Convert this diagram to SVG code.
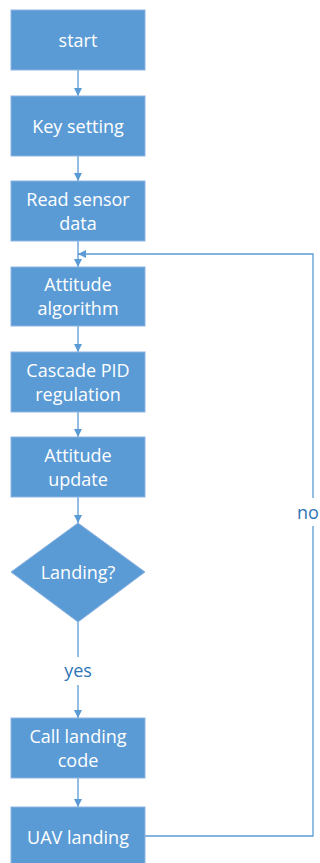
<svg xmlns="http://www.w3.org/2000/svg" width="320" height="863" viewBox="0 0 320 863">
<defs>
<marker id="ah" markerWidth="10" markerHeight="10" refX="9" refY="5" orient="auto" markerUnits="userSpaceOnUse">
<path d="M1,1 L9,5 L1,9 Z" fill="#5B9BD5"/>
</marker>
<style>
.box{fill:#5B9BD5;stroke:#8DB4E2;stroke-width:1}
.t{font-family:"Open Sans","Noto Sans",sans-serif;font-size:18px;fill:#ffffff;text-anchor:middle;dominant-baseline:central}
.lbl{font-family:"Open Sans","Noto Sans",sans-serif;font-size:18px;fill:#2E75B6;text-anchor:middle;dominant-baseline:central}
.c{fill:none;stroke:#5B9BD5;stroke-width:1.3}
</style>
</defs>
<rect width="320" height="863" fill="#ffffff"/>
<g id="connectors">
<line class="c" x1="78" y1="70" x2="78" y2="96" marker-end="url(#ah)"/>
<line class="c" x1="78" y1="156" x2="78" y2="181" marker-end="url(#ah)"/>
<line class="c" x1="78" y1="241" x2="78" y2="267" marker-end="url(#ah)"/>
<line class="c" x1="78" y1="326" x2="78" y2="352" marker-end="url(#ah)"/>
<line class="c" x1="78" y1="412" x2="78" y2="437" marker-end="url(#ah)"/>
<line class="c" x1="78" y1="497" x2="78" y2="523" marker-end="url(#ah)"/>
<line class="c" x1="78" y1="622" x2="78" y2="718" marker-end="url(#ah)"/>
<line class="c" x1="78" y1="778" x2="78" y2="807" marker-end="url(#ah)"/>
<polyline class="c" points="145,836 313,836 313,254 78,254" marker-end="url(#ah)"/>
<rect x="58" y="657" width="40" height="28" fill="#ffffff"/>
<text class="lbl" x="78" y="670">yes</text>
<rect x="296" y="498" width="30" height="28" fill="#ffffff"/>
<text class="lbl" x="297" y="512" style="text-anchor:start">no</text>
</g>
<g id="n-start"><rect class="box" x="11" y="10" width="134" height="60"/><text class="t" x="78" y="40">start</text></g>
<g id="n-key"><rect class="box" x="11" y="96" width="134" height="60"/><text class="t" x="78" y="126">Key setting</text></g>
<g id="n-read"><rect class="box" x="11" y="181" width="134" height="60"/><text class="t" x="78" y="199">Read sensor</text><text class="t" x="78" y="223">data</text></g>
<g id="n-att"><rect class="box" x="11" y="267" width="134" height="59"/><text class="t" x="78" y="284">Attitude</text><text class="t" x="78" y="308">algorithm</text></g>
<g id="n-pid"><rect class="box" x="11" y="352" width="134" height="60"/><text class="t" x="78" y="370">Cascade PID</text><text class="t" x="78" y="394">regulation</text></g>
<g id="n-upd"><rect class="box" x="11" y="437" width="134" height="60"/><text class="t" x="78" y="455">Attitude</text><text class="t" x="78" y="479">update</text></g>
<g id="n-land"><polygon class="box" points="78,523 145,572 78,622 11,572"/><text class="t" x="78" y="572">Landing?</text></g>
<g id="n-call"><rect class="box" x="11" y="718" width="134" height="60"/><text class="t" x="78" y="736">Call landing</text><text class="t" x="78" y="760">code</text></g>
<g id="n-uav"><rect class="box" x="11" y="807" width="134" height="60"/><text class="t" x="78" y="837">UAV landing</text></g>
</svg>
